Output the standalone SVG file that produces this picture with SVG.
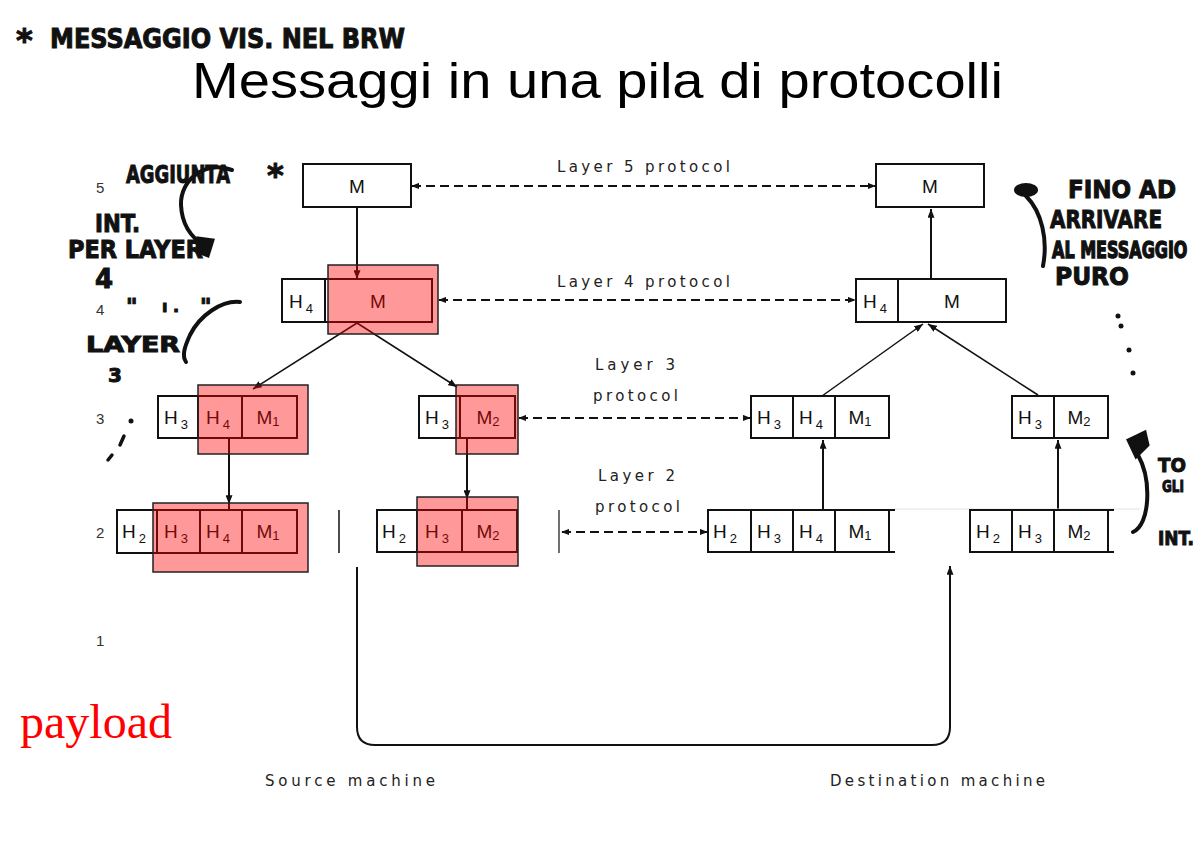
<svg xmlns="http://www.w3.org/2000/svg" width="1202" height="851" viewBox="0 0 1202 851">
  <defs>
    <marker id="arr" viewBox="0 0 10 8" refX="10" refY="4" markerWidth="9" markerHeight="7" orient="auto" markerUnits="userSpaceOnUse">
      <path d="M0,0 L10,4 L0,8 z" fill="#111"/>
    </marker>
    <marker id="arrS" viewBox="0 0 10 8" refX="9" refY="4" markerWidth="8" markerHeight="7" orient="auto-start-reverse" markerUnits="userSpaceOnUse">
      <path d="M0,0 L10,4 L0,8 z" fill="#111"/>
    </marker>
  </defs>
  <style>
    .bg { fill: #ffffff; }
    .cell { fill: #ffffff; stroke: #111; stroke-width: 2; }
    .hl { fill: rgba(255,0,0,0.4); stroke: #222; stroke-width: 1.5; }
    .lbl { font-family: "Liberation Sans", Arial, sans-serif; font-size: 19px; fill: #111; text-anchor: middle; }
    .sub { font-size: 13px; }
    .proto { font-family: "DejaVu Sans", "Liberation Sans", sans-serif; font-size: 15px; fill: #222; }
    .num { font-family: "Liberation Sans", Arial, sans-serif; font-size: 15px; fill: #333; }
    .line { stroke: #111; stroke-width: 2; fill: none; }
    .dash { stroke: #111; stroke-width: 2; fill: none; stroke-dasharray: 9 5; }
    .hand { font-family: "DejaVu Sans", "Liberation Sans", sans-serif; font-weight: bold; fill: #111; stroke: #111; stroke-width: 1; }
    .ink { stroke: #111; stroke-width: 4; fill: none; stroke-linecap: round; }
  </style>

  <rect class="bg" x="0" y="0" width="1202" height="851"/>

  <!-- title -->
  <text x="192" y="98" font-family="Liberation Sans, Arial, sans-serif" font-size="50" fill="#000" textLength="811" lengthAdjust="spacingAndGlyphs">Messaggi in una pila di protocolli</text>

  <!-- layer numbers -->
  <g id="layer-numbers">
    <text class="num" x="96" y="193">5</text>
    <text class="num" x="96" y="315">4</text>
    <text class="num" x="96" y="424">3</text>
    <text class="num" x="96" y="538">2</text>
    <text class="num" x="96" y="646">1</text>
  </g>

  <!-- protocol labels -->
  <g id="protocol-labels">
    <text class="proto" x="557" y="172" textLength="173" lengthAdjust="spacing">Layer 5 protocol</text>
    <text class="proto" x="557" y="287" textLength="173" lengthAdjust="spacing">Layer 4 protocol</text>
    <text class="proto" x="595" y="370" textLength="80" lengthAdjust="spacing">Layer 3</text>
    <text class="proto" x="593" y="401" textLength="85" lengthAdjust="spacing">protocol</text>
    <text class="proto" x="598" y="481" textLength="77" lengthAdjust="spacing">Layer 2</text>
    <text class="proto" x="595" y="512" textLength="85" lengthAdjust="spacing">protocol</text>
    <text class="proto" x="265" y="786" textLength="170" lengthAdjust="spacing">Source machine</text>
    <text class="proto" x="830" y="786" textLength="215" lengthAdjust="spacing">Destination machine</text>
  </g>

  <!-- connectors -->
  <g id="connectors">
    <!-- source machine: down the stack -->
    <line class="line" x1="357" y1="207" x2="357" y2="279" marker-end="url(#arr)"/>
    <line class="line" x1="357" y1="323" x2="253" y2="389" style="stroke-width:1.5" marker-end="url(#arr)"/>
    <line class="line" x1="357" y1="323" x2="457" y2="387" style="stroke-width:1.5" marker-end="url(#arr)"/>
    <line class="line" x1="229" y1="438" x2="229" y2="504" marker-end="url(#arr)"/>
    <line x1="229" y1="503" x2="229" y2="510" stroke="#111" stroke-width="2"/>
    <line class="line" x1="467" y1="438" x2="467" y2="499" marker-end="url(#arr)"/>
    <line x1="467" y1="498" x2="467" y2="510" stroke="#111" stroke-width="2"/>
    <!-- destination machine: up the stack -->
    <line class="line" x1="931" y1="279" x2="931" y2="209" marker-end="url(#arr)"/>
    <line class="line" x1="822" y1="396" x2="923" y2="324" style="stroke-width:1.5" marker-end="url(#arr)"/>
    <line class="line" x1="1038" y1="395" x2="928" y2="324" style="stroke-width:1.5" marker-end="url(#arr)"/>
    <line class="line" x1="823" y1="510" x2="823" y2="440" marker-end="url(#arr)"/>
    <line class="line" x1="1058" y1="510" x2="1058" y2="440" marker-end="url(#arr)"/>
    <!-- physical medium -->
    <path class="line" d="M357,567 V727 Q357,745 375,745 H932 Q950,745 950,727 V566" marker-end="url(#arr)"/>
    <!-- peer protocols -->
    <line class="dash" x1="412" y1="186" x2="875" y2="186" marker-start="url(#arrS)" marker-end="url(#arrS)"/>
    <line class="dash" x1="439" y1="300" x2="855" y2="300" marker-start="url(#arrS)" marker-end="url(#arrS)"/>
    <line class="dash" x1="519" y1="418" x2="750" y2="418" marker-start="url(#arrS)" marker-end="url(#arrS)"/>
    <line class="dash" x1="562" y1="532" x2="707" y2="532" marker-start="url(#arrS)" marker-end="url(#arrS)"/>
  </g>

  <!-- source: layer 5 -->
  <g id="src-l5">
    <rect class="cell" x="303" y="164" width="108" height="43"/>
    <text class="lbl" x="357" y="193">M</text>
  </g>

  <!-- destination: layer 5 -->
  <g id="dst-l5">
    <rect class="cell" x="876" y="164" width="108" height="43"/>
    <text class="lbl" x="930" y="193">M</text>
  </g>

  <!-- source: layer 4 -->
  <g id="src-l4">
    <rect class="cell" x="282" y="279" width="43" height="43"/>
    <rect class="cell" x="325" y="279" width="107" height="43"/>
    <text class="lbl" x="301" y="308">H<tspan class="sub" dx="3" dy="5">4</tspan></text>
    <text class="lbl" x="378" y="308">M</text>
    <rect class="hl" x="328" y="265" width="110" height="69"/>
  </g>

  <!-- destination: layer 4 -->
  <g id="dst-l4">
    <rect class="cell" x="856" y="279" width="42" height="43"/>
    <rect class="cell" x="898" y="279" width="108" height="43"/>
    <text class="lbl" x="875" y="308">H<tspan class="sub" dx="3" dy="5">4</tspan></text>
    <text class="lbl" x="952" y="308">M</text>
  </g>

  <!-- source: layer 3, first part -->
  <g id="src-l3-a">
    <rect class="cell" x="158" y="396" width="40" height="42"/>
    <rect class="cell" x="198" y="396" width="44" height="42"/>
    <rect class="cell" x="242" y="396" width="55" height="42"/>
    <text class="lbl" x="176" y="424">H<tspan class="sub" dx="3" dy="5">3</tspan></text>
    <text class="lbl" x="218" y="424">H<tspan class="sub" dx="3" dy="5">4</tspan></text>
    <text class="lbl" x="268" y="424">M<tspan class="sub" dy="2">1</tspan></text>
    <rect class="hl" x="198" y="385" width="110" height="69"/>
  </g>

  <!-- source: layer 3, second part -->
  <g id="src-l3-b">
    <rect class="cell" x="419" y="396" width="41" height="42"/>
    <rect class="cell" x="460" y="396" width="55" height="42"/>
    <text class="lbl" x="437" y="424">H<tspan class="sub" dx="3" dy="5">3</tspan></text>
    <text class="lbl" x="488" y="424">M<tspan class="sub" dy="2">2</tspan></text>
    <rect class="hl" x="456" y="385" width="62" height="69"/>
  </g>

  <!-- destination: layer 3, first part -->
  <g id="dst-l3-a">
    <rect class="cell" x="751" y="396" width="42" height="42"/>
    <rect class="cell" x="793" y="396" width="42" height="42"/>
    <rect class="cell" x="835" y="396" width="54" height="42"/>
    <text class="lbl" x="769" y="424">H<tspan class="sub" dx="3" dy="5">3</tspan></text>
    <text class="lbl" x="811" y="424">H<tspan class="sub" dx="3" dy="5">4</tspan></text>
    <text class="lbl" x="860" y="424">M<tspan class="sub" dy="2">1</tspan></text>
  </g>

  <!-- destination: layer 3, second part -->
  <g id="dst-l3-b">
    <rect class="cell" x="1012" y="396" width="42" height="42"/>
    <rect class="cell" x="1054" y="396" width="54" height="42"/>
    <text class="lbl" x="1030" y="424">H<tspan class="sub" dx="3" dy="5">3</tspan></text>
    <text class="lbl" x="1079" y="424">M<tspan class="sub" dy="2">2</tspan></text>
  </g>

  <!-- source: layer 2, first frame -->
  <g id="src-l2-a">
    <rect class="cell" x="117" y="510" width="40" height="43"/>
    <rect class="cell" x="157" y="510" width="43" height="43"/>
    <rect class="cell" x="200" y="510" width="42" height="43"/>
    <rect class="cell" x="242" y="510" width="55" height="43"/>
    <text class="lbl" x="134" y="538">H<tspan class="sub" dx="3" dy="5">2</tspan></text>
    <text class="lbl" x="176" y="538">H<tspan class="sub" dx="3" dy="5">3</tspan></text>
    <text class="lbl" x="218" y="538">H<tspan class="sub" dx="3" dy="5">4</tspan></text>
    <text class="lbl" x="268" y="538">M<tspan class="sub" dy="2">1</tspan></text>
    <rect class="hl" x="153" y="503" width="155" height="69"/>
  </g>

  <!-- source: layer 2, second frame -->
  <g id="src-l2-b">
    <rect class="cell" x="377" y="510" width="40" height="42"/>
    <rect class="cell" x="417" y="510" width="45" height="42"/>
    <rect class="cell" x="462" y="510" width="55" height="42"/>
    <text class="lbl" x="394" y="538">H<tspan class="sub" dx="3" dy="5">2</tspan></text>
    <text class="lbl" x="437" y="538">H<tspan class="sub" dx="3" dy="5">3</tspan></text>
    <text class="lbl" x="488" y="538">M<tspan class="sub" dy="2">2</tspan></text>
    <rect class="hl" x="417" y="497" width="101" height="69"/>
  </g>

  <!-- frame edge ticks -->
  <g id="edge-ticks">
    <line x1="339" y1="510" x2="339" y2="553" stroke="#111" stroke-width="1.5"/>
    <line x1="559" y1="510" x2="559" y2="553" stroke="#111" stroke-width="1.2"/>
    <line x1="894" y1="509" x2="1140" y2="509" stroke="#e2e2e2" stroke-width="1"/>
  </g>

  <!-- destination: layer 2, first frame -->
  <g id="dst-l2-a">
    <rect class="cell" x="708" y="510" width="43" height="42"/>
    <rect class="cell" x="751" y="510" width="42" height="42"/>
    <rect class="cell" x="793" y="510" width="42" height="42"/>
    <rect class="cell" x="835" y="510" width="54" height="42"/>
    <line x1="889" y1="510" x2="895" y2="510" stroke="#111" stroke-width="2"/>
    <line x1="889" y1="552" x2="895" y2="552" stroke="#111" stroke-width="2"/>
    <text class="lbl" x="725" y="538">H<tspan class="sub" dx="3" dy="5">2</tspan></text>
    <text class="lbl" x="769" y="538">H<tspan class="sub" dx="3" dy="5">3</tspan></text>
    <text class="lbl" x="811" y="538">H<tspan class="sub" dx="3" dy="5">4</tspan></text>
    <text class="lbl" x="860" y="538">M<tspan class="sub" dy="2">1</tspan></text>
  </g>

  <!-- destination: layer 2, second frame -->
  <g id="dst-l2-b">
    <rect class="cell" x="970" y="510" width="42" height="42"/>
    <rect class="cell" x="1012" y="510" width="42" height="42"/>
    <rect class="cell" x="1054" y="510" width="54" height="42"/>
    <line x1="1108" y1="510" x2="1114" y2="510" stroke="#111" stroke-width="2"/>
    <line x1="1108" y1="552" x2="1114" y2="552" stroke="#111" stroke-width="2"/>
    <text class="lbl" x="988" y="538">H<tspan class="sub" dx="3" dy="5">2</tspan></text>
    <text class="lbl" x="1030" y="538">H<tspan class="sub" dx="3" dy="5">3</tspan></text>
    <text class="lbl" x="1079" y="538">M<tspan class="sub" dy="2">2</tspan></text>
  </g>

  <!-- payload label -->
  <text x="20" y="738" font-family="Liberation Serif, 'Times New Roman', serif" font-size="48" fill="#ff0000">payload</text>

  <!-- handwritten notes -->
  <g id="notes">
    <text class="hand" x="16" y="51" font-size="32">*</text>
    <text class="hand" x="50" y="48" font-size="26" textLength="355" lengthAdjust="spacingAndGlyphs">MESSAGGIO VIS. NEL BRW</text>
    <text class="hand" x="267" y="186" font-size="32">*</text>

    <text class="hand" x="126" y="183" font-size="24" textLength="104" lengthAdjust="spacingAndGlyphs">AGGIUNTA</text>
    <text class="hand" x="95" y="232" font-size="24" textLength="45" lengthAdjust="spacingAndGlyphs">INT.</text>
    <text class="hand" x="68" y="258" font-size="24" textLength="135" lengthAdjust="spacingAndGlyphs">PER LAYER</text>
    <text class="hand" x="95" y="288" font-size="26">4</text>
    <text class="hand" x="126" y="314" font-size="22">"</text>
    <text class="hand" x="162" y="312" font-size="16">ı .</text>
    <text class="hand" x="200" y="314" font-size="22">"</text>
    <text class="hand" x="86" y="352" font-size="22" textLength="94" lengthAdjust="spacingAndGlyphs">LAYER</text>
    <text class="hand" x="108" y="382" font-size="20">3</text>
    <path class="ink" d="M232,170 C205,160 180,180 181,205 C182,228 195,240 205,246"/>
    <path d="M198,238 L213,240 L208,256 L198,252 z" fill="#111" stroke="#111" stroke-width="3"/>
    <path class="ink" d="M240,302 C222,300 200,315 190,335 C184,348 182,356 186,362"/>
    <circle cx="131" cy="421" r="2.5" fill="#111"/>
    <line class="ink" x1="124" y1="436" x2="120" y2="445" style="stroke-width:3.5"/>
    <line class="ink" x1="112" y1="455" x2="108" y2="460" style="stroke-width:3.5"/>

    <text class="hand" x="1068" y="198" font-size="24" textLength="108" lengthAdjust="spacingAndGlyphs">FINO AD</text>
    <text class="hand" x="1050" y="228" font-size="24" textLength="112" lengthAdjust="spacingAndGlyphs">ARRIVARE</text>
    <text class="hand" transform="translate(1052,258) scale(1,1.4)" x="0" y="0" font-size="16">AL MESSAGGIO</text>
    <text class="hand" x="1055" y="285" font-size="24" textLength="74" lengthAdjust="spacingAndGlyphs">PURO</text>
    <path class="ink" d="M1043,266 C1048,240 1042,212 1026,196"/>
    <ellipse cx="1026" cy="190" rx="12" ry="7" fill="#111"/>
    <circle cx="1118" cy="316" r="2.5" fill="#111"/>
    <circle cx="1121" cy="326" r="2.5" fill="#111"/>
    <circle cx="1129" cy="350" r="2.5" fill="#111"/>
    <circle cx="1133" cy="373" r="2.5" fill="#111"/>

    <text class="hand" x="1158" y="472" font-size="20" textLength="28" lengthAdjust="spacingAndGlyphs">TO</text>
    <text class="hand" x="1162" y="492" font-size="15" textLength="22" lengthAdjust="spacingAndGlyphs">GLI</text>
    <text class="hand" x="1158" y="545" font-size="20" textLength="36" lengthAdjust="spacingAndGlyphs">INT.</text>
    <path class="ink" d="M1133,532 C1150,525 1152,480 1138,455"/>
    <path d="M1128,440 L1145,432 L1148,445 L1136,457 z" fill="#111" stroke="#111" stroke-width="3"/>
  </g>
</svg>
